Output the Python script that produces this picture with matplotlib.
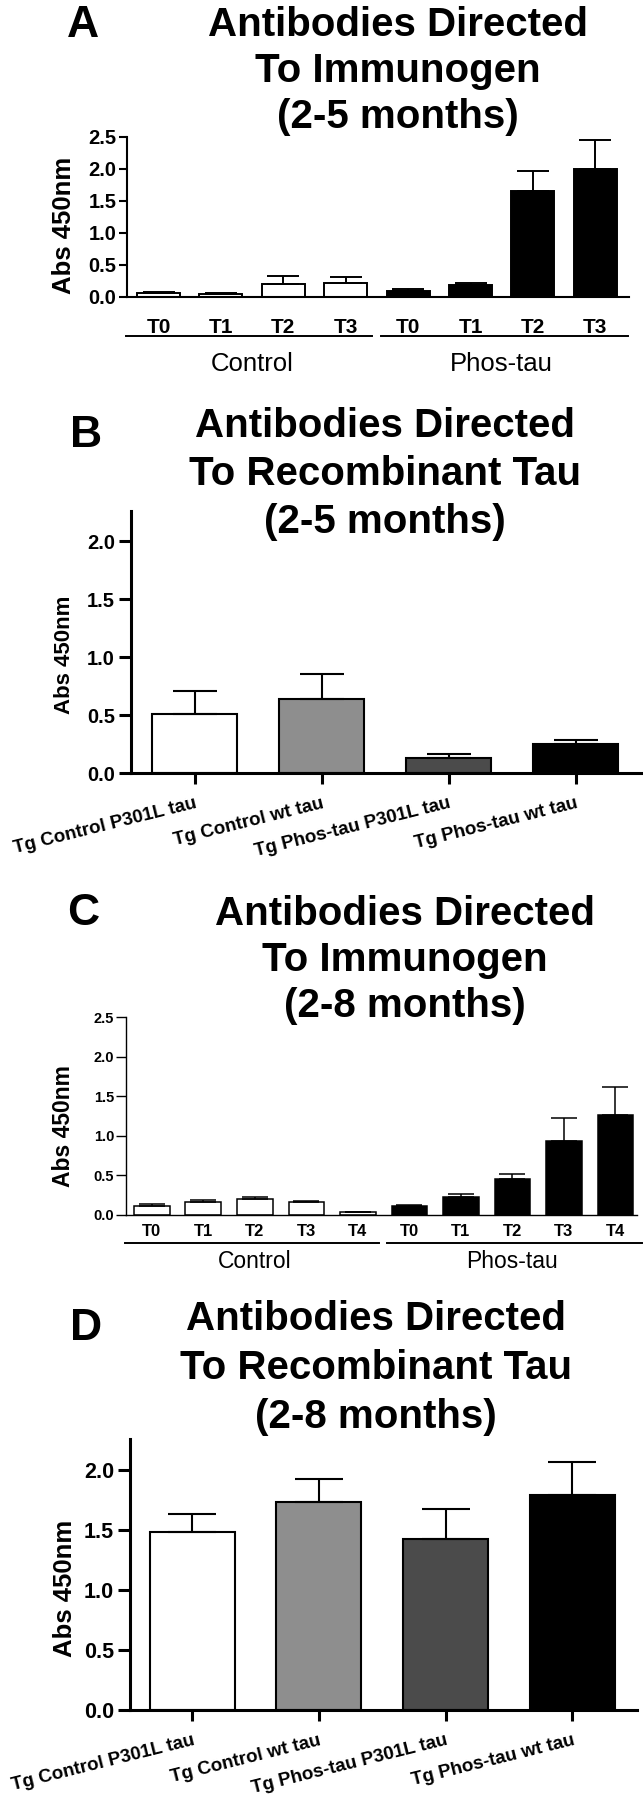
import matplotlib
matplotlib.use('Agg')
import matplotlib.pyplot as plt
from matplotlib import font_manager
from matplotlib.ticker import FormatStrFormatter
import numpy as np

plt.rcParams['font.family'] = ['Liberation Sans', 'DejaVu Sans']

W, H = 643, 1800

# A: antibodies to immunogen, 2-5 months
a_ticks = ['T0', 'T1', 'T2', 'T3']
a_control = [0.063, 0.047, 0.21, 0.22]
a_control_err = [0.017, 0.013, 0.12, 0.09]
a_phos = [0.10, 0.18, 1.65, 2.00]
a_phos_err = [0.02, 0.04, 0.32, 0.45]

# B: antibodies to recombinant tau, 2-5 months
rec_labels = ['Tg Control P301L tau', 'Tg Control wt tau',
              'Tg Phos-tau P301L tau', 'Tg Phos-tau wt tau']
rec_colors = ['white', '#8e8e8e', '#4b4b4b', 'black']
b_vals = [0.51, 0.64, 0.13, 0.25]
b_err = [0.20, 0.215, 0.037, 0.035]

# C: antibodies to immunogen, 2-8 months
c_ticks = ['T0', 'T1', 'T2', 'T3', 'T4']
c_control = [0.113, 0.168, 0.206, 0.164, 0.034]
c_control_err = [0.021, 0.025, 0.024, 0.008, 0.008]
c_phos = [0.113, 0.227, 0.454, 0.94, 1.265]
c_phos_err = [0.013, 0.033, 0.063, 0.28, 0.345]

# D: antibodies to recombinant tau, 2-8 months
d_vals = [1.48, 1.728, 1.425, 1.786]
d_err = [0.153, 0.192, 0.247, 0.274]

groups = ['Control', 'Phos-tau']
y_ticks = [0.0, 0.5, 1.0, 1.5, 2.0, 2.5]

# titles are set in a condensed bold face in the original
installed = {f.name for f in font_manager.fontManager.ttflist}
if 'Liberation Sans Narrow' in installed:
    TITLE_FAMILY, TITLE_SIZE = 'Liberation Sans Narrow', 33
else:
    TITLE_FAMILY, TITLE_SIZE = 'Liberation Sans', 29

fig = plt.figure(figsize=(W / 100, H / 100), dpi=100)


def add_ax(left, top, right, bottom):
    return fig.add_axes([left / W, 1 - bottom / H, (right - left) / W, (bottom - top) / H])


def heading(lines, cx, y0, step, letter, lx, ly):
    for i, line in enumerate(lines):
        fig.text(cx / W, 1 - (y0 + i * step) / H, line, ha='center', va='baseline',
                 fontsize=TITLE_SIZE, fontweight='bold', family=TITLE_FAMILY)
    fig.text(lx / W, 1 - ly / H, letter, ha='left', va='baseline', fontsize=32, fontweight='bold')


def style_axis(ax, ymax, xlim, spine_w, ytick_fs, ytick_len, ylab_fs, ylab_x, ypad):
    for s in ['top', 'right']:
        ax.spines[s].set_visible(False)
    for s in ['left', 'bottom']:
        ax.spines[s].set_linewidth(spine_w)
    ax.set_xlim(*xlim)
    ax.set_ylim(0, ymax)
    ax.set_yticks([t for t in y_ticks if t <= ymax])
    ax.yaxis.set_major_formatter(FormatStrFormatter('%.1f'))
    ax.tick_params(axis='y', direction='out', length=ytick_len, width=spine_w,
                   labelsize=ytick_fs, pad=ypad)
    for lab in ax.get_yticklabels():
        lab.set_fontweight('bold')
    ax.set_ylabel('Abs 450nm', fontsize=ylab_fs, fontweight='bold', va='center')
    pos = ax.get_position()
    ax.yaxis.set_label_coords((ylab_x / W - pos.x0) / pos.width, 0.45)


def immunogen(ax, ticks, ctrl, ctrl_err, phos, phos_err, lw, tick_fs, tick_pad,
              group_fs, line_off, group_off, cap):
    n = len(ticks)
    x = np.arange(2 * n)
    vals = ctrl + phos
    errs = ctrl_err + phos_err
    colors = ['white'] * n + ['black'] * n
    ax.bar(x, vals, width=0.69, color=colors, edgecolor='black', linewidth=lw, zorder=2)
    ax.errorbar(x, vals, yerr=[np.zeros(2 * n), errs], fmt='none', ecolor='black',
                elinewidth=lw, capsize=cap, capthick=lw, zorder=3)
    ax.set_xticks(x, ticks + ticks)
    ax.tick_params(axis='x', length=0, labelsize=tick_fs, pad=tick_pad)
    for lab in ax.get_xticklabels():
        lab.set_fontweight('bold')
    # group brackets under the tick labels
    hpx = ax.get_position().height * H
    tr = ax.get_xaxis_transform()
    spans = [(-0.52, n - 0.58), (n - 0.44, 2 * n - 0.48)]
    for (x0, x1), name, c in zip(spans, groups, [(n - 1) / 2, n + (n - 1) / 2]):
        ax.plot([x0, x1], [-line_off / hpx] * 2, color='black', lw=1.4, transform=tr, clip_on=False)
        ax.text(c, -group_off / hpx, name, transform=tr, ha='center', va='center',
                fontsize=group_fs)


def recombinant(ax, vals, err, cap, tick_fs):
    x = np.arange(len(vals))
    ax.bar(x, vals, width=0.67, color=rec_colors, edgecolor='black', linewidth=1.5, zorder=2)
    ax.errorbar(x, vals, yerr=[np.zeros(len(vals)), err], fmt='none', ecolor='black',
                elinewidth=1.5, capsize=cap, capthick=1.5, zorder=3)
    ax.set_xticks(x, rec_labels)
    ax.tick_params(axis='x', direction='out', length=8, width=2.2, pad=8)
    for lab in ax.get_xticklabels():
        lab.set_rotation(14)
        lab.set_ha('right')
        lab.set_va('top')
        lab.set_rotation_mode('anchor')
        lab.set_fontsize(tick_fs)
        lab.set_fontweight('bold')


# panel A
heading(['Antibodies Directed', 'To Immunogen', '(2-5 months)'], 398, 36, 46, 'A', 67, 37)
axA = add_ax(127, 137, 629, 297)
style_axis(axA, 2.5, (-0.505, 7.54), 1.5, 14.5, 6, 18.5, 64, 1.5)
immunogen(axA, a_ticks, a_control, a_control_err, a_phos, a_phos_err, 1.4, 15, 15,
          18.5, 39, 67, 11.5)

# panel B
heading(['Antibodies Directed', 'To Recombinant Tau', '(2-5 months)'], 385, 437, 48, 'B', 70, 447)
axB = add_ax(131, 511, 643, 773)
style_axis(axB, 2.26, (-0.5, 3.53), 2.2, 14.5, 8.5, 16, 64, 3)
recombinant(axB, b_vals, b_err, 16, 13.5)

# panel C
heading(['Antibodies Directed', 'To Immunogen', '(2-8 months)'], 405, 925, 46, 'C', 67, 925)
axC = add_ax(126, 1017, 637, 1215)
style_axis(axC, 2.5, (-0.5, 9.42), 1.0, 10.5, 7, 16.5, 64, 1.5)
immunogen(axC, c_ticks, c_control, c_control_err, c_phos, c_phos_err, 1.1, 12, 6.5,
          16.5, 28, 47, 9.5)

# panel D
heading(['Antibodies Directed', 'To Recombinant Tau', '(2-8 months)'], 376, 1330, 49, 'D', 70, 1340)
axD = add_ax(130, 1439, 637, 1710)
style_axis(axD, 2.255, (-0.49, 3.51), 2.2, 15.5, 8.5, 18.5, 65, 3)
recombinant(axD, d_vals, d_err, 17, 13.5)

fig.savefig('out.png', dpi=100)
